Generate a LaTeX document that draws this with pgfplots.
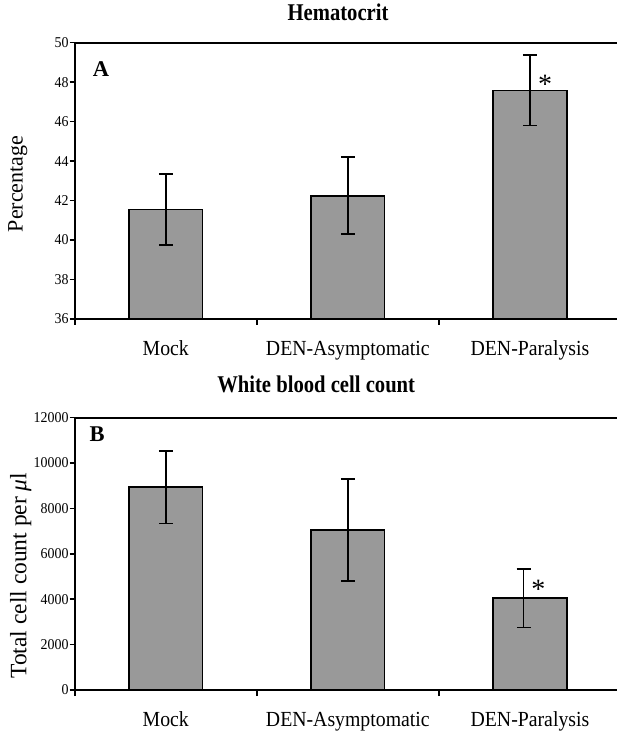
\documentclass[border=0pt]{standalone}
\usepackage{pgfplots}
\pgfplotsset{compat=1.18}
\usepackage{fontspec}
\setmainfont{Liberation Serif}
\newfontfamily\condfont[FakeStretch=0.92]{Liberation Serif}
\newfontfamily\titlefont[FakeStretch=0.86]{Liberation Serif}
\newfontfamily\tickfont[FakeStretch=0.93]{Liberation Serif}
\definecolor{barfill}{RGB}{153,153,153}
\begin{document}
\begin{tikzpicture}
\useasboundingbox (0pt,0pt) rectangle (616pt,731pt);
\pgfplotsset{
  panel/.style={
    scale only axis, width=546.3pt,
    xmin=-0.5, xmax=2.5,
    axis line style={line width=1.9pt},
    tick align=outside, xtick pos=bottom, ytick pos=left,
    xtick={0,1,2},
    xticklabels={Mock, DEN-Asymptomatic, DEN-Paralysis},
    major x tick style={draw=none},
    minor xtick={-0.5,0.5,1.5,2.5},
    minor tick length=6pt,
    minor x tick style={line width=1.9pt, black},
    major y tick style={line width=1.5pt, black},
    major tick length=5pt,
    xticklabel style={font=\condfont\fontsize{21.5}{21.5}\selectfont, anchor=base, yshift=-31.5pt},
    yticklabel style={font=\tickfont\fontsize{15}{15}\selectfont, inner sep=1pt},
    /pgf/number format/assume math mode=true,
    /pgf/number format/set thousands separator={},
    scaled y ticks=false,
    ybar, bar width=73.4pt, bar shift=0pt,
    axis on top,
    title style={font=\titlefont\bfseries\fontsize{24}{24}\selectfont, anchor=base},
    every axis y label/.style={rotate=90, anchor=center},
  },
  plainbar/.style={fill=barfill, draw=black, line width=1.8pt},
  bars/.style={fill=barfill, draw=black, line width=1.8pt,
    error bars/.cd, y dir=both, y explicit,
    error bar style={line width=1.8pt, black},
    error mark options={rotate=90, mark size=7pt, line width=1.8pt, black}},
  errs/.style={draw=none, fill=none,
    error bars/.cd, y dir=both, y explicit,
    error bar style={line width=1.8pt, black},
    error mark options={rotate=90, mark size=7pt, line width=1.8pt, black}},
}
\begin{axis}[panel, at={(74.7pt,412pt)}, anchor=south west, height=276.3pt,
  ymin=36, ymax=50, ytick={36,38,...,50},
  title={Hematocrit},
  title style={at={(axis description cs:0.482,1)}, yshift=16.5pt},
  ylabel={Percentage},
  ylabel style={at={(axis description cs:-0.104,0.489)}, font=\fontsize{22}{22}\selectfont},
]
\addplot[bars] coordinates {
  (0,41.55) +- (0,1.80)
  (1,42.25) +- (0,1.95)
  (2,47.58) +- (0,1.78)
};
\node[anchor=base west, font=\bfseries\fontsize{22.5}{22.5}\selectfont] at (axis description cs:0.027,0.876) {A};
\node[font=\fontsize{28}{28}\selectfont] at (axis cs:2.083,47.88) {*};
\end{axis}
\begin{axis}[panel, at={(74.7pt,41pt)}, anchor=south west, height=272.3pt,
  ymin=0, ymax=12000, ytick={0,2000,...,12000},
  title={White blood cell count},
  title style={at={(axis description cs:0.442,1)}, yshift=19.4pt},
  ylabel={Total cell count per \textit{μ}l},
  ylabel style={at={(axis description cs:-0.099,0.42)}, font=\fontsize{23.5}{23.5}\selectfont},
]
\addplot[bars] coordinates {
  (0,8930) +- (0,1590)
  (1,7050) +- (0,2235)
};
\addplot[plainbar] coordinates {
  (2,4040)
};
\addplot[errs] coordinates {
  (1.965,4040) +- (0,1290)
};
\node[anchor=base west, font=\bfseries\fontsize{22.5}{22.5}\selectfont] at (axis description cs:0.021,0.911) {B};
\node[font=\fontsize{28}{28}\selectfont] at (axis cs:2.046,4430) {*};
\end{axis}
\end{tikzpicture}
\end{document}
